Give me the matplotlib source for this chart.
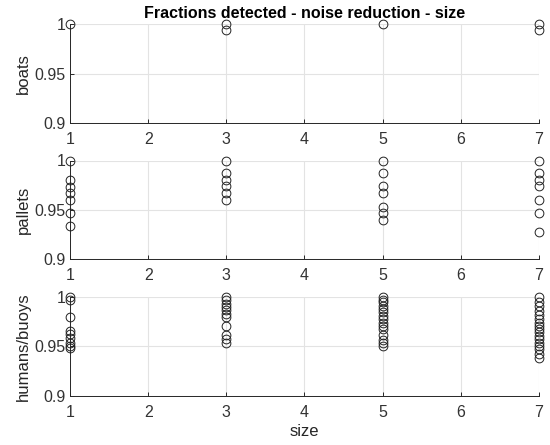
import matplotlib
matplotlib.use("Agg")
import matplotlib.pyplot as plt
from matplotlib.ticker import FixedLocator, FuncFormatter

plt.rcParams['font.family'] = ['Liberation Sans', 'DejaVu Sans']

sizes = [1, 3, 5, 7]
row_labels = ["boats", "pallets", "humans/buoys"]

boats = {
    1: [1.0],
    3: [1.0, 0.994],
    5: [1.0],
    7: [1.0, 0.994],
}
pallets = {
    1: [1.0, 0.980, 0.973, 0.967, 0.960, 0.947, 0.933],
    3: [1.0, 0.987, 0.980, 0.974, 0.967, 0.960],
    5: [1.0, 0.987, 0.974, 0.967, 0.953, 0.947, 0.940],
    7: [1.0, 0.987, 0.980, 0.974, 0.960, 0.947, 0.927],
}
humans = {
    1: [1.0, 0.997, 0.980, 0.965, 0.962, 0.958, 0.953, 0.950, 0.948],
    3: [1.0, 0.997, 0.993, 0.990, 0.987, 0.983, 0.980, 0.970, 0.961, 0.957, 0.953],
    5: [1.0, 0.997, 0.995, 0.991, 0.988, 0.985, 0.981, 0.978, 0.974, 0.970,
        0.967, 0.961, 0.956, 0.953, 0.950],
    7: [1.0, 0.995, 0.991, 0.986, 0.982, 0.978, 0.974, 0.970, 0.967, 0.964,
        0.960, 0.957, 0.953, 0.950, 0.947, 0.942, 0.938],
}
datasets = [boats, pallets, humans]

W, H = 550, 445
fig = plt.figure(figsize=(5.5, 4.45), dpi=100)

left = 70 / W
width = (539 - 70) / W
rows_px = [(24, 123), (160.5, 259), (296.7, 396)]

axc = '#262626'
for i, (data, lab) in enumerate(zip(datasets, row_labels)):
    top, bot = rows_px[i]
    ax = fig.add_axes([left, 1 - bot / H, width, (bot - top) / H])
    for x in sizes:
        ys = data[x]
        ax.plot([x] * len(ys), ys, linestyle='none', marker='o', ms=6.3,
                mfc='none', mec='#222222', mew=0.7, clip_on=False, zorder=5)
    ax.set_xlim(1, 7)
    ax.set_ylim(0.9, 1.0)
    ax.xaxis.set_major_locator(FixedLocator([1, 2, 3, 4, 5, 6, 7]))
    ax.yaxis.set_major_locator(FixedLocator([0.9, 0.95, 1.0]))
    ax.yaxis.set_major_formatter(FuncFormatter(lambda v, p: ('%g' % round(v, 4))))
    ax.grid(True, color='#e3e3e3', linewidth=0.8)
    ax.set_axisbelow(True)
    for s in ['top', 'right']:
        ax.spines[s].set_visible(False)
    for s in ['left', 'bottom']:
        ax.spines[s].set_color(axc)
        ax.spines[s].set_linewidth(0.7)
    ax.tick_params(direction='in', length=3, width=0.7, colors=axc,
                   labelsize=11.5, labelcolor='#333333')
    ax.tick_params(axis='x', pad=6.5)
    ax.tick_params(axis='y', pad=3)
    ax.set_ylabel(lab, fontsize=12, color='#262626', labelpad=3)
    if i == 0:
        ax.set_title('Fractions detected - noise reduction - size',
                     fontsize=11.5, fontweight='bold', pad=4)
    if i == 2:
        ax.set_xlabel('size', fontsize=12, color='#262626', labelpad=3)

fig.savefig('out.png', dpi=100)
